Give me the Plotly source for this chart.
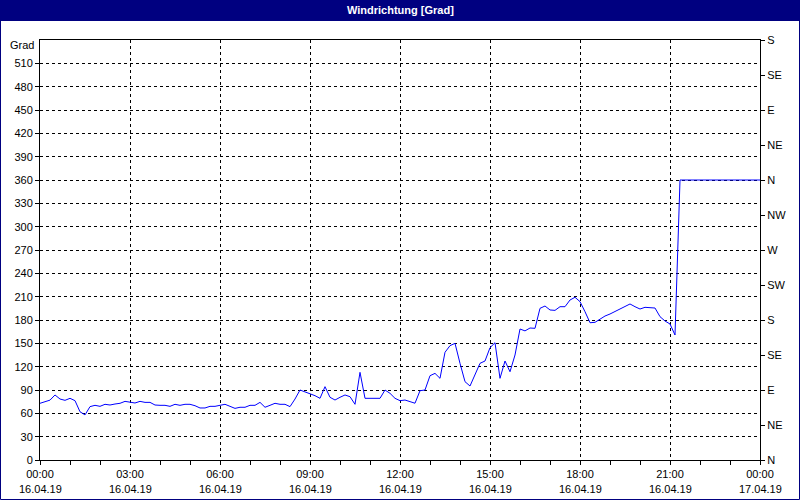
import pandas as pd
import plotly.graph_objects as go

# Wind direction in degrees, 10-minute samples from 16.04.19 00:00
wind_dir = [
    72.9, 75.0, 77.0, 83.6, 78.4, 76.7, 79.3, 76.3, 62.0, 58.0,
    68.6, 70.3, 69.0, 71.6, 70.7, 72.0, 72.9, 75.4, 74.6, 73.3,
    75.4, 74.1, 74.1, 70.7, 70.3, 70.3, 69.0, 71.6, 70.3, 71.6,
    71.6, 69.8, 66.9, 66.9, 69.0, 69.0, 70.3, 71.6, 69.0, 66.4,
    67.8, 67.8, 70.3, 70.3, 74.1, 67.8, 70.3, 72.9, 71.6, 71.6,
    68.6, 78.4, 90.0, 87.8, 85.7, 82.7, 79.3, 94.3, 80.6, 77.1,
    80.6, 83.6, 81.4, 71.6, 112.7, 79.3, 79.3, 79.3, 79.3, 90.0,
    85.7, 79.3, 76.3, 77.1, 74.6, 73.0, 89.1, 90.0, 108.4, 111.4,
    105.0, 138.5, 147.0, 150.0, 124.3, 100.7, 95.1, 110.6, 124.3, 127.3,
    144.4, 150.8, 105.0, 127.3, 113.5, 135.0, 168.4, 166.0, 169.7, 169.3,
    195.0, 198.0, 192.9, 192.4, 197.1, 197.1, 205.7, 209.2, 203.6, 190.7,
    176.5, 177.0, 180.9, 185.1, 187.7, 190.7, 193.7, 197.1, 200.6, 197.1,
    194.1, 196.3, 195.4, 195.4, 184.3, 178.7, 174.9, 160.7, 360.0, 360.0,
    360.0, 360.0, 360.0, 360.0, 360.0, 360.0, 360.0, 360.0, 360.0, 360.0,
    360.0, 360.0, 360.0, 360.0, 360.0,
]
times = pd.date_range("2019-04-16 00:00", periods=len(wind_dir), freq="10min")

left_ticks = list(range(0, 540, 30))
right_ticks = list(range(0, 541, 45))
right_labels = ["N", "NE", "E", "SE", "S", "SW", "W", "NW", "N", "NE", "E", "SE", "S"]
x_tickvals = pd.date_range("2019-04-16 00:00", "2019-04-17 00:00", freq="3h")
x_time_text = [f"{t:%H:%M}" for t in x_tickvals]
x_date_text = [f"{t:%d.%m.%y}" for t in x_tickvals]
title_text = "Windrichtung [Grad]"
unit_text = "Grad"

FONT = "Liberation Sans"
NAVY = "#000080"

fig = go.Figure()
fig.add_trace(go.Scatter(x=times, y=wind_dir, mode="lines",
                         line=dict(color="#0000FF", width=1),
                         showlegend=False, hoverinfo="x+y"))
fig.add_trace(go.Scatter(x=[times[0]], y=[0], yaxis="y2", mode="markers",
                         marker=dict(opacity=0), showlegend=False, hoverinfo="skip"))

W, H = 800, 500
L, R, T, B = 40, 40, 40, 40
pw, ph = W - L - R, H - T - B


def px(x):
    return (x - L) / pw


def py(y):
    return (H - B - y) / ph


annotations = [
    dict(text=f"<b>{title_text}</b>", xref="paper", yref="paper",
         x=0.5, y=py(10), xanchor="center", yanchor="middle", showarrow=False,
         font=dict(family=FONT, size=11, color="white")),
    dict(text=unit_text, xref="paper", yref="paper",
         x=px(36), y=py(45), xanchor="right", yanchor="middle", showarrow=False,
         font=dict(family=FONT, size=11, color="black")),
]
for t, d in zip(x_tickvals, x_date_text):
    annotations.append(dict(text=d, x=t, xref="x", yref="paper", y=py(489),
                            xanchor="center", yanchor="middle", showarrow=False,
                            font=dict(family=FONT, size=11, color="black")))

fig.update_layout(
    width=W, height=H,
    margin=dict(l=L, r=R, t=T, b=B, pad=0, autoexpand=False),
    paper_bgcolor="white", plot_bgcolor="white",
    font=dict(family=FONT, size=11, color="black"),
    xaxis=dict(
        type="date", automargin=False,
        range=[x_tickvals[0], x_tickvals[-1]],
        tickvals=list(x_tickvals), ticktext=x_time_text,
        ticks="outside", ticklen=4, tickcolor="black",
        showline=True, linecolor="black", linewidth=1, mirror=True,
        showgrid=True, gridcolor="black", gridwidth=1, griddash="3px,3px",
        zeroline=False,
        minor=dict(dtick=3600000, ticks="outside", ticklen=4, tickcolor="black", showgrid=False),
        tickfont=dict(family=FONT, size=11),
        fixedrange=True,
    ),
    yaxis=dict(
        range=[0, 540], automargin=False,
        tickvals=left_ticks, ticktext=[str(v) for v in left_ticks],
        ticks="outside", ticklen=4, tickcolor="black",
        showline=True, linecolor="black", linewidth=1, mirror=True,
        showgrid=True, gridcolor="black", gridwidth=1, griddash="3px,3px",
        zeroline=False,
        tickfont=dict(family=FONT, size=11),
        fixedrange=True,
    ),
    yaxis2=dict(
        range=[0, 540], overlaying="y", side="right", automargin=False,
        tickvals=right_ticks, ticktext=right_labels,
        ticks="outside", ticklen=4, tickcolor="black",
        showline=True, linecolor="black", linewidth=1,
        showgrid=False, zeroline=False,
        tickfont=dict(family=FONT, size=11),
        fixedrange=True,
    ),
    shapes=[
        dict(type="rect", xref="paper", yref="paper",
             x0=px(0), x1=px(W), y0=py(21), y1=py(0),
             fillcolor=NAVY, line=dict(width=0), layer="above"),
        dict(type="rect", xref="paper", yref="paper",
             x0=px(0.5), x1=px(W - 0.5), y0=py(H - 0.5), y1=py(0.5),
             fillcolor="rgba(0,0,0,0)", line=dict(color=NAVY, width=1), layer="above"),
    ],
    annotations=annotations,
)

fig.write_html(
    "out.html",
    config={"displayModeBar": False},
    post_script="document.body.style.margin='0';document.body.style.overflow='hidden';",
)
